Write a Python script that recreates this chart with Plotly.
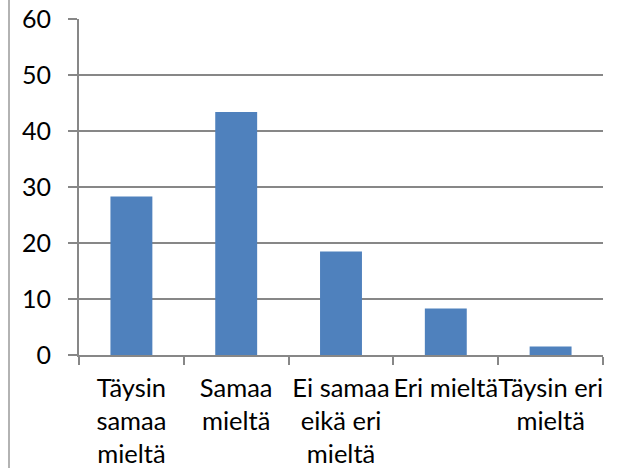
import plotly.graph_objects as go

categories = ["Täysin<br>samaa<br>mieltä", "Samaa<br>mieltä", "Ei samaa<br>eikä eri<br>mieltä",
              "Eri mieltä", "Täysin eri<br>mieltä"]
values = [28.3, 43.4, 18.5, 8.3, 1.5]
y_ticks = [0, 10, 20, 30, 40, 50, 60]

W, H = 621, 468
L, R, T, B = 79, 18, 19, 113

grid = "#878787"
xfont = dict(family="Lato, Arial, sans-serif", size=25.5, color="#000000")
yfont = dict(family="Lato, Arial, sans-serif", size=25, color="#000000")

fig = go.Figure(go.Bar(x=categories, y=values, marker=dict(color="#4F81BD", line=dict(width=0))))

fig.update_layout(
    width=W, height=H,
    margin=dict(l=L, r=R, t=T, b=B, pad=0, autoexpand=False),
    paper_bgcolor="white", plot_bgcolor="white",
    bargap=0.6, showlegend=False, font=yfont,
)
fig.update_xaxes(
    type="category", tickson="boundaries", ticks="outside", ticklen=8, tickwidth=2,
    tickcolor=grid, showline=True, linecolor=grid, linewidth=2, showgrid=False,
    tickangle=0, tickfont=xfont, ticklabelstandoff=9, automargin=False,
)
fig.update_yaxes(
    range=[0, 60], tickvals=y_ticks, ticks="outside", ticklen=9, tickwidth=2,
    tickcolor=grid, showline=True, linecolor=grid, linewidth=2,
    showgrid=True, gridcolor=grid, gridwidth=2, zeroline=False,
    tickfont=yfont, ticklabelstandoff=12, automargin=False,
)

# thin frame edge on the left side of the chart area
fig.add_shape(type="line", xref="paper", yref="paper",
              x0=(9 - L) / (W - L - R), x1=(9 - L) / (W - L - R), y0=-1, y1=2,
              line=dict(color="#9a9a9a", width=1.5))

fig.write_html("out.html")
